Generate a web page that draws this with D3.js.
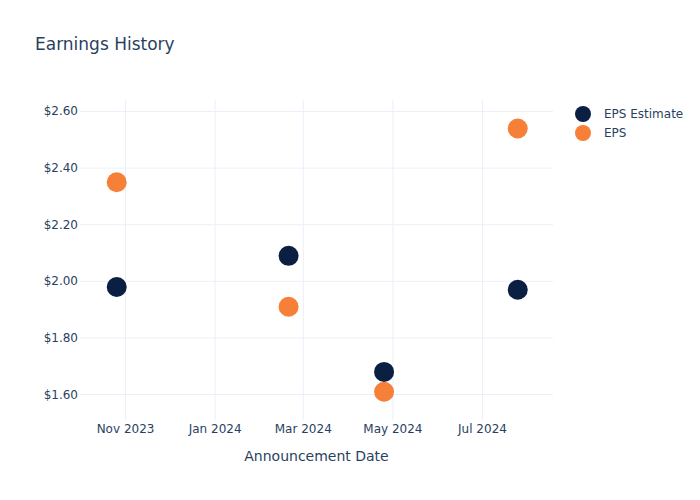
<!DOCTYPE html>
<html><head><meta charset="utf-8">
<script src="https://cdn.jsdelivr.net/npm/d3@7"></script>
<style>body{margin:0;background:#fff}svg{display:block}text{font-family:"DejaVu Sans",Verdana,sans-serif}</style>
</head><body><svg id="c" width="700" height="500"></svg>
<script>
const dates = ["2023-10-26","2024-02-20","2024-04-25","2024-07-25"];
const epsEstimate = [1.98, 2.09, 1.68, 1.97];
const eps = [2.35, 1.91, 1.61, 2.54];
const yTicks = [1.6, 1.8, 2.0, 2.2, 2.4, 2.6];
const xTicks = ["2023-11-01","2024-01-01","2024-03-01","2024-05-01","2024-07-01"];
const seriesNames = ["EPS Estimate", "EPS"];
const colors = ["#0b1f42", "#f68038"];

const parse = d3.utcParse("%Y-%m-%d");
const svg = d3.select("#c");
const L = 80, R = 553, T = 100, B = 420;
const x = d3.scaleUtc().domain([parse("2023-10-01"), parse("2024-08-18")]).range([L, R]);
const y = d3.scaleLinear().domain([1.51, 2.6406]).range([B, T]);
const grid = "#ebf0f8", txt = "#2a3f5f";

svg.append("g").selectAll("line").data(xTicks).join("line")
  .attr("x1", d => x(parse(d))).attr("x2", d => x(parse(d))).attr("y1", T).attr("y2", B)
  .attr("stroke", grid).attr("stroke-width", 1);
svg.append("g").selectAll("line").data(yTicks).join("line")
  .attr("y1", d => y(d)).attr("y2", d => y(d)).attr("x1", L).attr("x2", R)
  .attr("stroke", grid).attr("stroke-width", 1);

svg.append("g").selectAll("text").data(yTicks).join("text")
  .attr("x", L - 2).attr("y", d => y(d) + 4).attr("text-anchor", "end")
  .attr("font-size", 12).attr("fill", txt).text(d => "$" + d.toFixed(2));
const fmt = d3.utcFormat("%b %Y");
svg.append("g").selectAll("text").data(xTicks).join("text")
  .attr("x", d => x(parse(d))).attr("y", 433).attr("text-anchor", "middle")
  .attr("font-size", 12).attr("fill", txt).text(d => fmt(parse(d)));

svg.append("text").attr("x", (L + R) / 2).attr("y", 461).attr("text-anchor", "middle")
  .attr("font-size", 14).attr("fill", txt).text("Announcement Date");
svg.append("text").attr("x", 35).attr("y", 50).attr("font-size", 17).attr("fill", txt).text("Earnings History");

[epsEstimate, eps].forEach((vals, i) => {
  svg.append("g").selectAll("circle").data(vals).join("circle")
    .attr("cx", (d, j) => x(parse(dates[j]))).attr("cy", d => y(d)).attr("r", 10)
    .attr("fill", colors[i]);
});

const lg = svg.append("g");
seriesNames.forEach((n, i) => {
  lg.append("circle").attr("cx", 583).attr("cy", 114 + i * 19).attr("r", 8).attr("fill", colors[i]);
  lg.append("text").attr("x", 604).attr("y", 118 + i * 19).attr("font-size", 12).attr("fill", txt).text(n);
});
</script></body></html>
